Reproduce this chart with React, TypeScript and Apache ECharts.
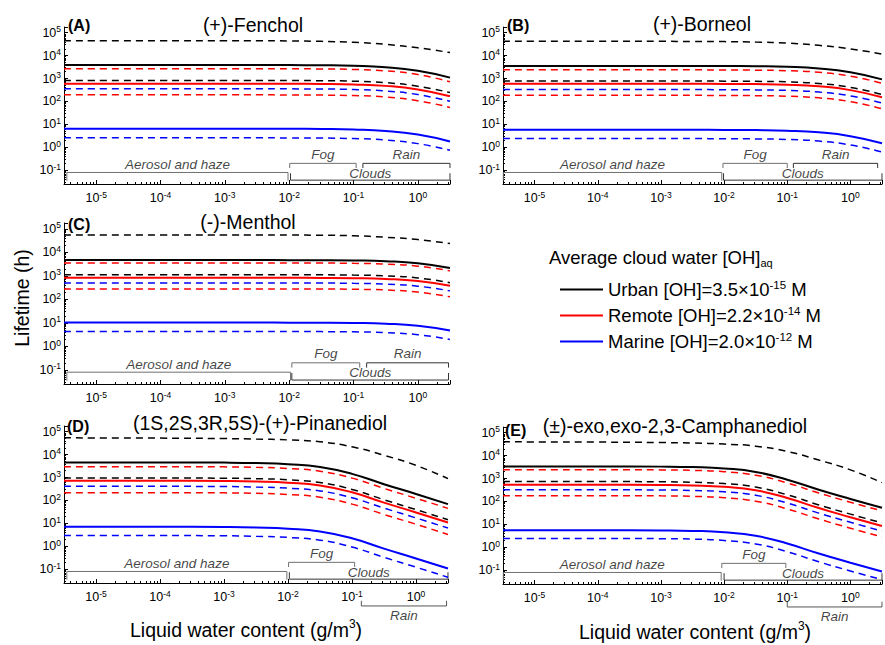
import React, { useEffect, useRef } from "react";
import * as echarts from "echarts";

const FONT = "Liberation Sans";

// Liquid water content sampling points (g/m3)
const lwc = [3.16e-6, 1e-4, 1e-3, 3.16e-3, 1e-2, 3.16e-2, 0.1, 0.316, 1, 3.16];

const panelLetters = ["(A)", "(B)", "(C)", "(D)", "(E)"];
const compounds = [
  "(+)-Fenchol",
  "(+)-Borneol",
  "(-)-Menthol",
  "(1S,2S,3R,5S)-(+)-Pinanediol",
  "(±)-exo,exo-2,3-Camphanediol",
];

const environments = ["Urban", "Remote", "Marine"];
const envColors = ["#000000", "#ff0000", "#0000ff"];
const ohMantissa = ["3.5", "2.2", "2.0"];
const ohExponent = ["-15", "-14", "-12"];

// (A) (+)-Fenchol lifetimes (h)
const fencholUrban = [3900, 3900, 3900, 3900, 3860, 3800, 3620, 3120, 2170, 1100];
const fencholUrbanHi = [45000, 45000, 45000, 44500, 44000, 42000, 38300, 31100, 22000, 13600];
const fencholUrbanLo = [830, 830, 830, 830, 822, 809, 769, 664, 461, 245];
const fencholRemote = [600, 600, 600, 600, 594, 585, 556, 480, 334, 170];
const fencholRemoteHi = [2700, 2700, 2700, 2700, 2670, 2630, 2500, 2160, 1500, 730];
const fencholRemoteLo = [195, 195, 195, 195, 193, 190, 181, 156, 108, 55];
const fencholMarine = [6.5, 6.5, 6.5, 6.5, 6.44, 6.34, 6.03, 5.2, 3.6, 1.8];
const fencholMarineHi = [360, 360, 360, 360, 356, 351, 334, 288, 200, 102];
const fencholMarineLo = [2.6, 2.6, 2.6, 2.6, 2.57, 2.54, 2.41, 2.08, 1.45, 0.75];

// (B) (+)-Borneol
const borneolUrban = [3550, 3550, 3550, 3550, 3515, 3450, 3270, 2770, 1880, 920];
const borneolUrbanHi = [42000, 42000, 42000, 41600, 40950, 39060, 35280, 28140, 19740, 11760];
const borneolUrbanLo = [780, 780, 780, 780, 772, 758, 718, 608, 413, 203];
const borneolRemote = [590, 590, 590, 590, 584, 573, 543, 460, 313, 153];
const borneolRemoteHi = [2400, 2400, 2400, 2400, 2376, 2333, 2208, 1872, 1272, 624];
const borneolRemoteLo = [185, 185, 185, 185, 183, 180, 170, 144, 98, 48];
const borneolMarine = [5.8, 5.8, 5.8, 5.8, 5.74, 5.64, 5.34, 4.52, 3.07, 1.51];
const borneolMarineHi = [330, 330, 330, 330, 327, 321, 304, 257, 175, 86];
const borneolMarineLo = [2.4, 2.4, 2.4, 2.4, 2.38, 2.33, 2.21, 1.87, 1.27, 0.62];

// (C) (-)-Menthol
const mentholUrban = [4700, 4700, 4700, 4700, 4680, 4650, 4530, 4210, 3430, 2160];
const mentholUrbanHi = [55000, 55000, 55000, 54700, 54450, 53600, 51150, 44000, 35200, 23650];
const mentholUrbanLo = [1120, 1120, 1120, 1120, 1115, 1108, 1080, 1002, 818, 515];
const mentholRemote = [830, 830, 830, 830, 827, 821, 800, 743, 606, 382];
const mentholRemoteHi = [3550, 3550, 3550, 3550, 3536, 3511, 3422, 3177, 2592, 1633];
const mentholRemoteLo = [280, 280, 280, 280, 279, 277, 270, 251, 204, 129];
const mentholMarine = [10.3, 10.3, 10.3, 10.3, 10.26, 10.19, 9.93, 9.22, 7.52, 4.74];
const mentholMarineHi = [500, 500, 500, 500, 498, 495, 482, 448, 365, 230];
const mentholMarineLo = [4.3, 4.3, 4.3, 4.3, 4.28, 4.25, 4.15, 3.85, 3.14, 1.98];

// (D) (1S,2S,3R,5S)-(+)-Pinanediol
const pinanediolUrban = [4600, 4600, 4490, 4290, 3830, 2900, 1450, 515, 192, 69.5];
const pinanediolUrbanHi = [54000, 52760, 50380, 48110, 43900, 36500, 21980, 9400, 3400, 896];
const pinanediolUrbanLo = [960, 960, 938, 896, 799, 606, 303, 108, 40, 14.5];
const pinanediolRemote = [720, 720, 703, 672, 599, 454, 228, 80.6, 30, 10.9];
const pinanediolRemoteHi = [3000, 3000, 2930, 2800, 2500, 1890, 948, 336, 125, 45.3];
const pinanediolRemoteLo = [220, 220, 215, 205, 183, 139, 69.5, 24.6, 9.2, 3.3];
const pinanediolMarine = [7.1, 7.1, 6.94, 6.62, 5.91, 4.48, 2.24, 0.795, 0.296, 0.107];
const pinanediolMarineHi = [415, 415, 405, 387, 345, 262, 131, 46.5, 17.3, 6.27];
const pinanediolMarineLo = [2.95, 2.95, 2.88, 2.75, 2.45, 1.86, 0.932, 0.33, 0.123, 0.0445];

// (E) (±)-exo,exo-2,3-Camphanediol
const camphanediolUrban = [3400, 3400, 3320, 3170, 2760, 1955, 894, 325, 129, 53.7];
const camphanediolUrbanHi = [40000, 39080, 37320, 35640, 32000, 26000, 15200, 6400, 2400, 664];
const camphanediolUrbanLo = [740, 740, 723, 690, 602, 426, 195, 70.7, 28.1, 11.7];
const camphanediolRemote = [540, 540, 528, 504, 439, 311, 142, 51.6, 20.5, 8.5];
const camphanediolRemoteHi = [2450, 2450, 2394, 2286, 1992, 1409, 644, 234, 93, 38.7];
const camphanediolRemoteLo = [180, 180, 176, 168, 146, 103.5, 47.3, 17.2, 6.84, 2.84];
const camphanediolMarine = [5.6, 5.6, 5.47, 5.22, 4.55, 3.22, 1.47, 0.535, 0.213, 0.0885];
const camphanediolMarineHi = [325, 325, 318, 303, 264, 187, 85.5, 31, 12.4, 5.1];
const camphanediolMarineLo = [2.45, 2.45, 2.39, 2.29, 1.99, 1.41, 0.644, 0.234, 0.093, 0.0387];

// Atmospheric water regimes (LWC ranges, g/m3) per panel
const regimeNames = ["Aerosol and haze", "Fog", "Rain", "Clouds"];
const aerosolRange = [[3.5e-6, 9.6e-3], [3.2e-6, 9.2e-3], [3.5e-6, 1.05e-2], [3.5e-6, 9.6e-3], [3.2e-6, 9.0e-3]];
const fogRange = [[1.02e-2, 0.11], [9.6e-3, 0.1], [1.1e-2, 0.125], [1.02e-2, 0.11], [9.2e-3, 0.095]];
const rainRange = [[0.14, 3.16], [0.125, 2.7], [0.16, 3.0], [0.14, 3.0], [0.1, 3.16]];
const cloudsRange = [[1.05e-2, 3.16], [9.8e-3, 3.16], [1.1e-2, 3.0], [1.05e-2, 3.16], [1.0e-2, 3.16]];
const rainBelowAxis = [false, false, false, true, true];

const curveSets = [
  [fencholUrban, fencholUrbanHi, fencholUrbanLo, fencholRemote, fencholRemoteHi, fencholRemoteLo, fencholMarine, fencholMarineHi, fencholMarineLo],
  [borneolUrban, borneolUrbanHi, borneolUrbanLo, borneolRemote, borneolRemoteHi, borneolRemoteLo, borneolMarine, borneolMarineHi, borneolMarineLo],
  [mentholUrban, mentholUrbanHi, mentholUrbanLo, mentholRemote, mentholRemoteHi, mentholRemoteLo, mentholMarine, mentholMarineHi, mentholMarineLo],
  [pinanediolUrban, pinanediolUrbanHi, pinanediolUrbanLo, pinanediolRemote, pinanediolRemoteHi, pinanediolRemoteLo, pinanediolMarine, pinanediolMarineHi, pinanediolMarineLo],
  [camphanediolUrban, camphanediolUrbanHi, camphanediolUrbanLo, camphanediolRemote, camphanediolRemoteHi, camphanediolRemoteLo, camphanediolMarine, camphanediolMarineHi, camphanediolMarineLo],
];

// Layout
const grids = [
  { left: 64, top: 27, width: 386, height: 157 },
  { left: 503, top: 27, width: 387, height: 157 },
  { left: 64, top: 223, width: 386, height: 161 },
  { left: 64, top: 426, width: 384, height: 157 },
  { left: 503, top: 427, width: 387, height: 157 },
];
const letterPos = [[68, 25], [507, 25], [68, 224], [67, 426], [505, 430]];
const titlePos = [[253, 25], [702, 24], [248, 222], [260, 423], [675, 426]];

const X_MIN = Math.pow(10, -5.5);
const X_MAX = Math.pow(10, 0.5);
const Y_MIN = Math.pow(10, -1.6);
const Y_MAX = Math.pow(10, 5.25);

// bracket y-levels (in axis units)
const BR = {
  upper: 0.2, upperEnd: 0.125, upperLabel: 0.5,
  aerosol: 0.08, aerosolEnd: 0.035, aerosolLabel: 0.17,
  clouds: 0.037, cloudsEnd: 0.074, cloudsLabel: 0.075,
  below: 0.0025, belowEnd: 0.0042, belowLabel: 0.001,
};

function pow10Label(v: number) {
  const e = Math.log10(v);
  const r = Math.round(e);
  if (Math.abs(e - r) > 1e-6) return "";
  return "10{sup|" + r + "}";
}

function axisCommon(isX: boolean, idx: number) {
  return {
    type: "log",
    logBase: 10,
    gridIndex: idx,
    min: isX ? X_MIN : Y_MIN,
    max: isX ? X_MAX : Y_MAX,
    axisLine: { show: true, onZero: false, lineStyle: { color: "#000", width: 1 } },
    axisTick: { show: true, inside: true, length: 4, lineStyle: { color: "#000", width: 1 } },
    minorTick: { show: true, splitNumber: 9, length: 2, lineStyle: { color: "#000", width: 1 } },
    splitLine: { show: false },
    minorSplitLine: { show: false },
    axisLabel: {
      formatter: pow10Label,
      color: "#000",
      fontSize: 12.5,
      fontFamily: FONT,
      lineHeight: 16,
      margin: isX ? 6 : 3,
      rich: {
        sup: { fontSize: 8.5, lineHeight: 8, verticalAlign: "top", fontFamily: FONT, color: "#000" },
      },
    },
  };
}

function gm(r: number[]) {
  return Math.sqrt(r[0] * r[1]);
}

function bracket(p: number, range: number[], yLine: number, yEnd: number, color: string) {
  return {
    type: "line",
    xAxisIndex: p,
    yAxisIndex: p,
    data: [
      [range[0], yEnd],
      [range[0], yLine],
      [range[1], yLine],
      [range[1], yEnd],
    ],
    symbol: "none",
    lineStyle: { color, width: 1 },
    silent: true,
    clip: false,
    z: 1,
  };
}

function buildOption() {
  const series: any[] = [];
  for (let p = 0; p < 5; p++) {
    for (let e = 0; e < 3; e++) {
      const variants = [
        { vals: curveSets[p][e * 3], name: environments[e], dashed: false },
        { vals: curveSets[p][e * 3 + 1], name: environments[e] + " upper", dashed: true },
        { vals: curveSets[p][e * 3 + 2], name: environments[e] + " lower", dashed: true },
      ];
      for (const v of variants) {
        series.push({
          type: "line",
          name: v.name,
          xAxisIndex: p,
          yAxisIndex: p,
          data: lwc.map((x, i) => [x, v.vals[i]]),
          symbol: "none",
          smooth: 0.5,
          itemStyle: { color: envColors[e] },
          lineStyle: { color: envColors[e], width: v.dashed ? 1.5 : 2, type: v.dashed ? [7, 5] : "solid" },
          silent: true,
          z: v.dashed ? 2 : 3,
        });
      }
    }
    // regime brackets
    series.push(bracket(p, aerosolRange[p], BR.aerosol, BR.aerosolEnd, "#707070"));
    series.push(bracket(p, fogRange[p], BR.upper, BR.upperEnd, "#707070"));
    if (rainBelowAxis[p]) {
      series.push(bracket(p, rainRange[p], BR.below, BR.belowEnd, "#555"));
    } else {
      series.push(bracket(p, rainRange[p], BR.upper, BR.upperEnd, "#333"));
    }
    series.push(bracket(p, cloudsRange[p], BR.clouds, BR.cloudsEnd, "#333"));
    series.push({
      type: "scatter",
      xAxisIndex: p,
      yAxisIndex: p,
      symbolSize: 1,
      itemStyle: { color: "rgba(0,0,0,0)" },
      clip: false,
      silent: true,
      z: 4,
      data: [
        [gm(aerosolRange[p]), BR.aerosolLabel, regimeNames[0]],
        [gm(fogRange[p]), BR.upperLabel, regimeNames[1]],
        [gm(rainRange[p]), rainBelowAxis[p] ? BR.belowLabel : BR.upperLabel, regimeNames[2]],
        [gm(cloudsRange[p]), BR.cloudsLabel, regimeNames[3]],
      ],
      label: {
        show: true,
        position: "inside",
        formatter: (d: any) => d.data[2],
        fontStyle: "italic",
        fontSize: 13.5,
        fontFamily: FONT,
        color: "#111",
      },
    });
  }

  const graphic: any[] = [];
  for (let p = 0; p < 5; p++) {
    graphic.push({
      type: "text",
      x: letterPos[p][0],
      y: letterPos[p][1],
      silent: true,
      style: { text: panelLetters[p], fontSize: 16, fontWeight: "bold", fontFamily: FONT, fill: "#000", align: "left", verticalAlign: "middle" },
    });
    graphic.push({
      type: "text",
      x: titlePos[p][0],
      y: titlePos[p][1],
      silent: true,
      style: { text: compounds[p], fontSize: 19.5, fontFamily: FONT, fill: "#000", align: "center", verticalAlign: "middle" },
    });
  }
  graphic.push({
    type: "text",
    x: 549,
    y: 257,
    silent: true,
    style: {
      text: "Average cloud water [OH]{sub|aq}",
      fontSize: 18.5,
      lineHeight: 22,
      fontFamily: FONT,
      fill: "#000",
      align: "left",
      verticalAlign: "middle",
      rich: { sub: { fontSize: 11, lineHeight: 10, verticalAlign: "bottom", fontFamily: FONT, fill: "#000" } },
    },
  });
  graphic.push({
    type: "text",
    x: 22,
    y: 298,
    rotation: Math.PI / 2,
    silent: true,
    style: { text: "Lifetime (h)", fontSize: 19.5, fontFamily: FONT, fill: "#000", align: "center", verticalAlign: "middle" },
  });
  const xTitle = "Liquid water content (g/m{sup|3})";
  for (const pos of [[246, 630], [695, 632]]) {
    graphic.push({
      type: "text",
      x: pos[0],
      y: pos[1],
      silent: true,
      style: {
        text: xTitle,
        fontSize: 19.5,
        lineHeight: 24,
        fontFamily: FONT,
        fill: "#000",
        align: "center",
        verticalAlign: "middle",
        rich: { sup: { fontSize: 12, lineHeight: 10, verticalAlign: "top", fontFamily: FONT, fill: "#000" } },
      },
    });
  }

  return {
    animation: false,
    backgroundColor: "#ffffff",
    textStyle: { fontFamily: FONT },
    grid: grids.map((g) => ({ ...g, containLabel: false })),
    xAxis: grids.map((_, i) => axisCommon(true, i)),
    yAxis: grids.map((_, i) => axisCommon(false, i)),
    legend: {
      data: environments,
      orient: "vertical",
      left: 560,
      top: 279,
      padding: 0,
      itemWidth: 43,
      itemHeight: 2,
      itemGap: 5,
      icon: "rect",
      selectedMode: false,
      formatter: (name: string) => {
        const i = environments.indexOf(name);
        return name + " [OH]=" + ohMantissa[i] + "×10{sup|" + ohExponent[i] + "} M";
      },
      textStyle: {
        fontSize: 18.5,
        lineHeight: 21,
        fontFamily: FONT,
        color: "#000",
        rich: { sup: { fontSize: 11.5, lineHeight: 10, verticalAlign: "top", fontFamily: FONT, color: "#000" } },
      },
    },
    graphic,
    series,
  };
}

export default function App() {
  const ref = useRef<HTMLDivElement>(null);
  useEffect(() => {
    if (!ref.current) return;
    const chart = echarts.init(ref.current, null, { renderer: "svg" });
    chart.setOption(buildOption() as any);
    return () => chart.dispose();
  }, []);
  return (
    <div
      ref={ref}
      style={{ position: "fixed", left: 0, top: 0, width: 885, height: 645, background: "#fff" }}
    />
  );
}
